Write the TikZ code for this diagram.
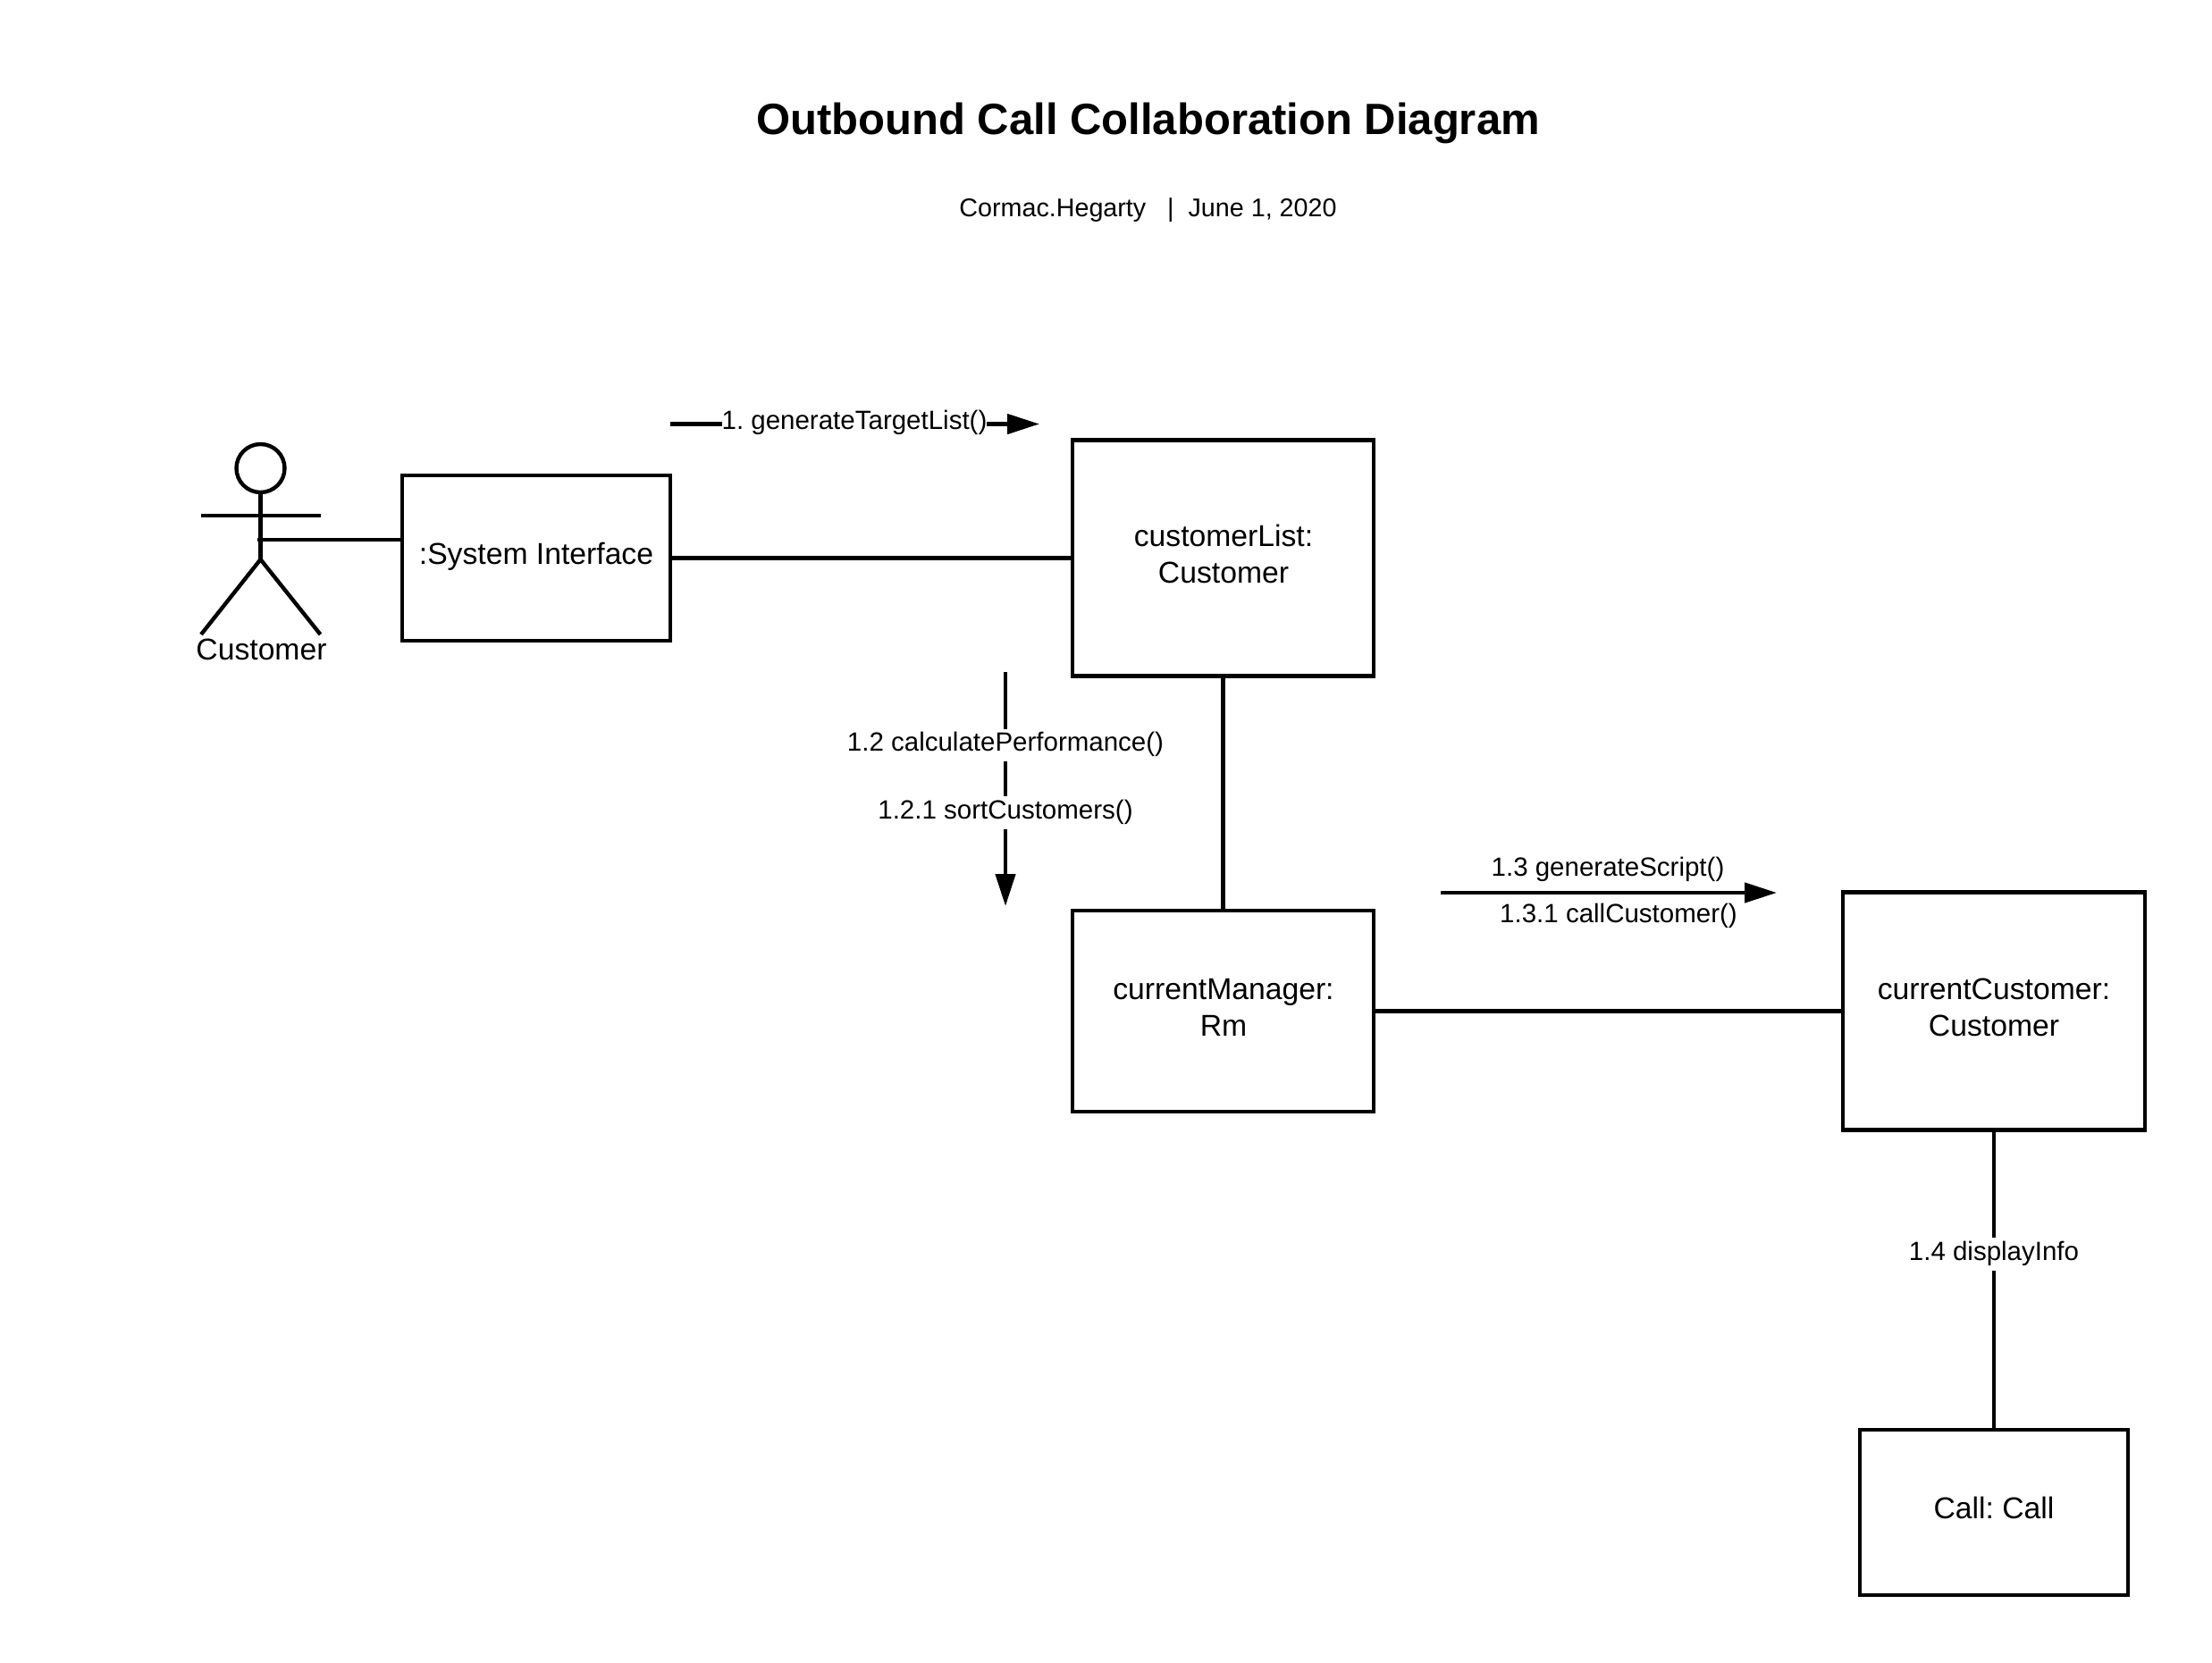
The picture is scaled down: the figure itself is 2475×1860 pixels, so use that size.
\documentclass[tikz,border=0pt]{standalone}
\usepackage{fontspec}
\setmainfont{Liberation Sans}
\usetikzlibrary{arrows.meta}
\frenchspacing
\tikzset{
  x=1pt,y=-1pt,
  line/.style={draw=black,line width=4.4pt},
  objbox/.style={draw=black,line width=4.4pt,fill=white,inner sep=0pt,outer sep=0pt,anchor=center},
  objtext/.style={inner sep=0pt,align=center,font=\fontsize{33.7}{41}\selectfont},
  msgtext/.style={inner sep=0pt,fill=white,text height=25pt,text depth=11.5pt,align=center,font=\fontsize{29.5}{36}\selectfont},
  msgplain/.style={inner sep=0pt,align=center,font=\fontsize{29.5}{36}\selectfont},
  subtext/.style={inner sep=0pt,align=center,font=\fontsize{28.7}{36}\selectfont},
  msg/.style={line,-{Triangle[length=36pt,width=22pt]}},
}
\begin{document}
\begin{tikzpicture}
\useasboundingbox (0,0) rectangle (2475,1860);
\fill[white] (0,0) rectangle (2475,1860);

\node[inner sep=0pt,font=\bfseries\fontsize{49}{60}\selectfont] (title) at (1284.5,138) {Outbound Call Collaboration Diagram};
\node[subtext] (sub) at (1284.5,235) {Cormac.Hegarty\ \ \ |\ \ June 1, 2020};

% objects
\node[objbox,minimum width=300pt,minimum height=185pt] (sys) at (600,624.5) {};
\node[objbox,minimum width=337pt,minimum height=264pt] (clist) at (1368.5,624.5) {};
\node[objbox,minimum width=337pt,minimum height=225pt] (mgr) at (1368.5,1131.5) {};
\node[objbox,minimum width=338pt,minimum height=266pt] (cust) at (2231,1131.5) {};
\node[objbox,minimum width=300pt,minimum height=185pt] (call) at (2231,1692.5) {};

\node[objtext] (systext) at (600,622.5) {:System Interface};
\node[objtext] (clisttext) at (1369,620) {customerList:\\Customer};
\node[objtext] (mgrtext) at (1369,1127) {currentManager:\\Rm};
\node[objtext] (custtext) at (2231,1127) {currentCustomer:\\Customer};
\node[objtext] (calltext) at (2231,1687) {Call: Call};

% actor
\node[circle,draw=black,line width=4.4pt,minimum size=54pt,inner sep=0pt,outer sep=0pt] (head) at (291.5,524) {};
\coordinate (hip) at (291.5,626);
\coordinate (armL) at (225,577);
\coordinate (armR) at (358.5,577);
\coordinate (legL) at (225,710);
\coordinate (legR) at (358.5,710);
\coordinate (actorlink) at (288,604);
\draw[line] (head.south) -- (hip);
\draw[line] (armL) -- (armR);
\draw[line] (legL) -- (hip) -- (legR);
\node[objtext] (actorname) at (292.5,726.5) {Customer};

% links
\draw[line] (actorlink) -- (actorlink -| sys.west);
\draw[line] (sys) -- (clist);
\draw[line] (clist) -- (mgr);
\draw[line] (mgr) -- (cust);
\draw[line] (cust) -- (call);
\node[msgtext] (l14) at (2231,1403.5) {1.4 displayInfo};

% messages
\coordinate (m1a) at (750,474.5);
\coordinate (m1b) at (1163,474.5);
\draw[msg] (m1a) -- (m1b);
\node[msgtext] (l1) at (956,474) {1. generateTargetList()};

\coordinate (m2a) at (1125,752);
\coordinate (m2b) at (1125,1014);
\draw[msg] (m2a) -- (m2b);
\node[msgtext] (l12) at (1125,834) {1.2 calculatePerformance()};
\node[msgtext] (l121) at (1125,909.5) {1.2.1 sortCustomers()};

\coordinate (m3a) at (1612,999);
\coordinate (m3b) at (1988,999);
\draw[msg] (m3a) -- (m3b);
\node[msgplain] (l13) at (1799,973) {1.3 generateScript()};
\node[msgplain] (l131) at (1811,1025) {1.3.1 callCustomer()};
\end{tikzpicture}
\end{document}
